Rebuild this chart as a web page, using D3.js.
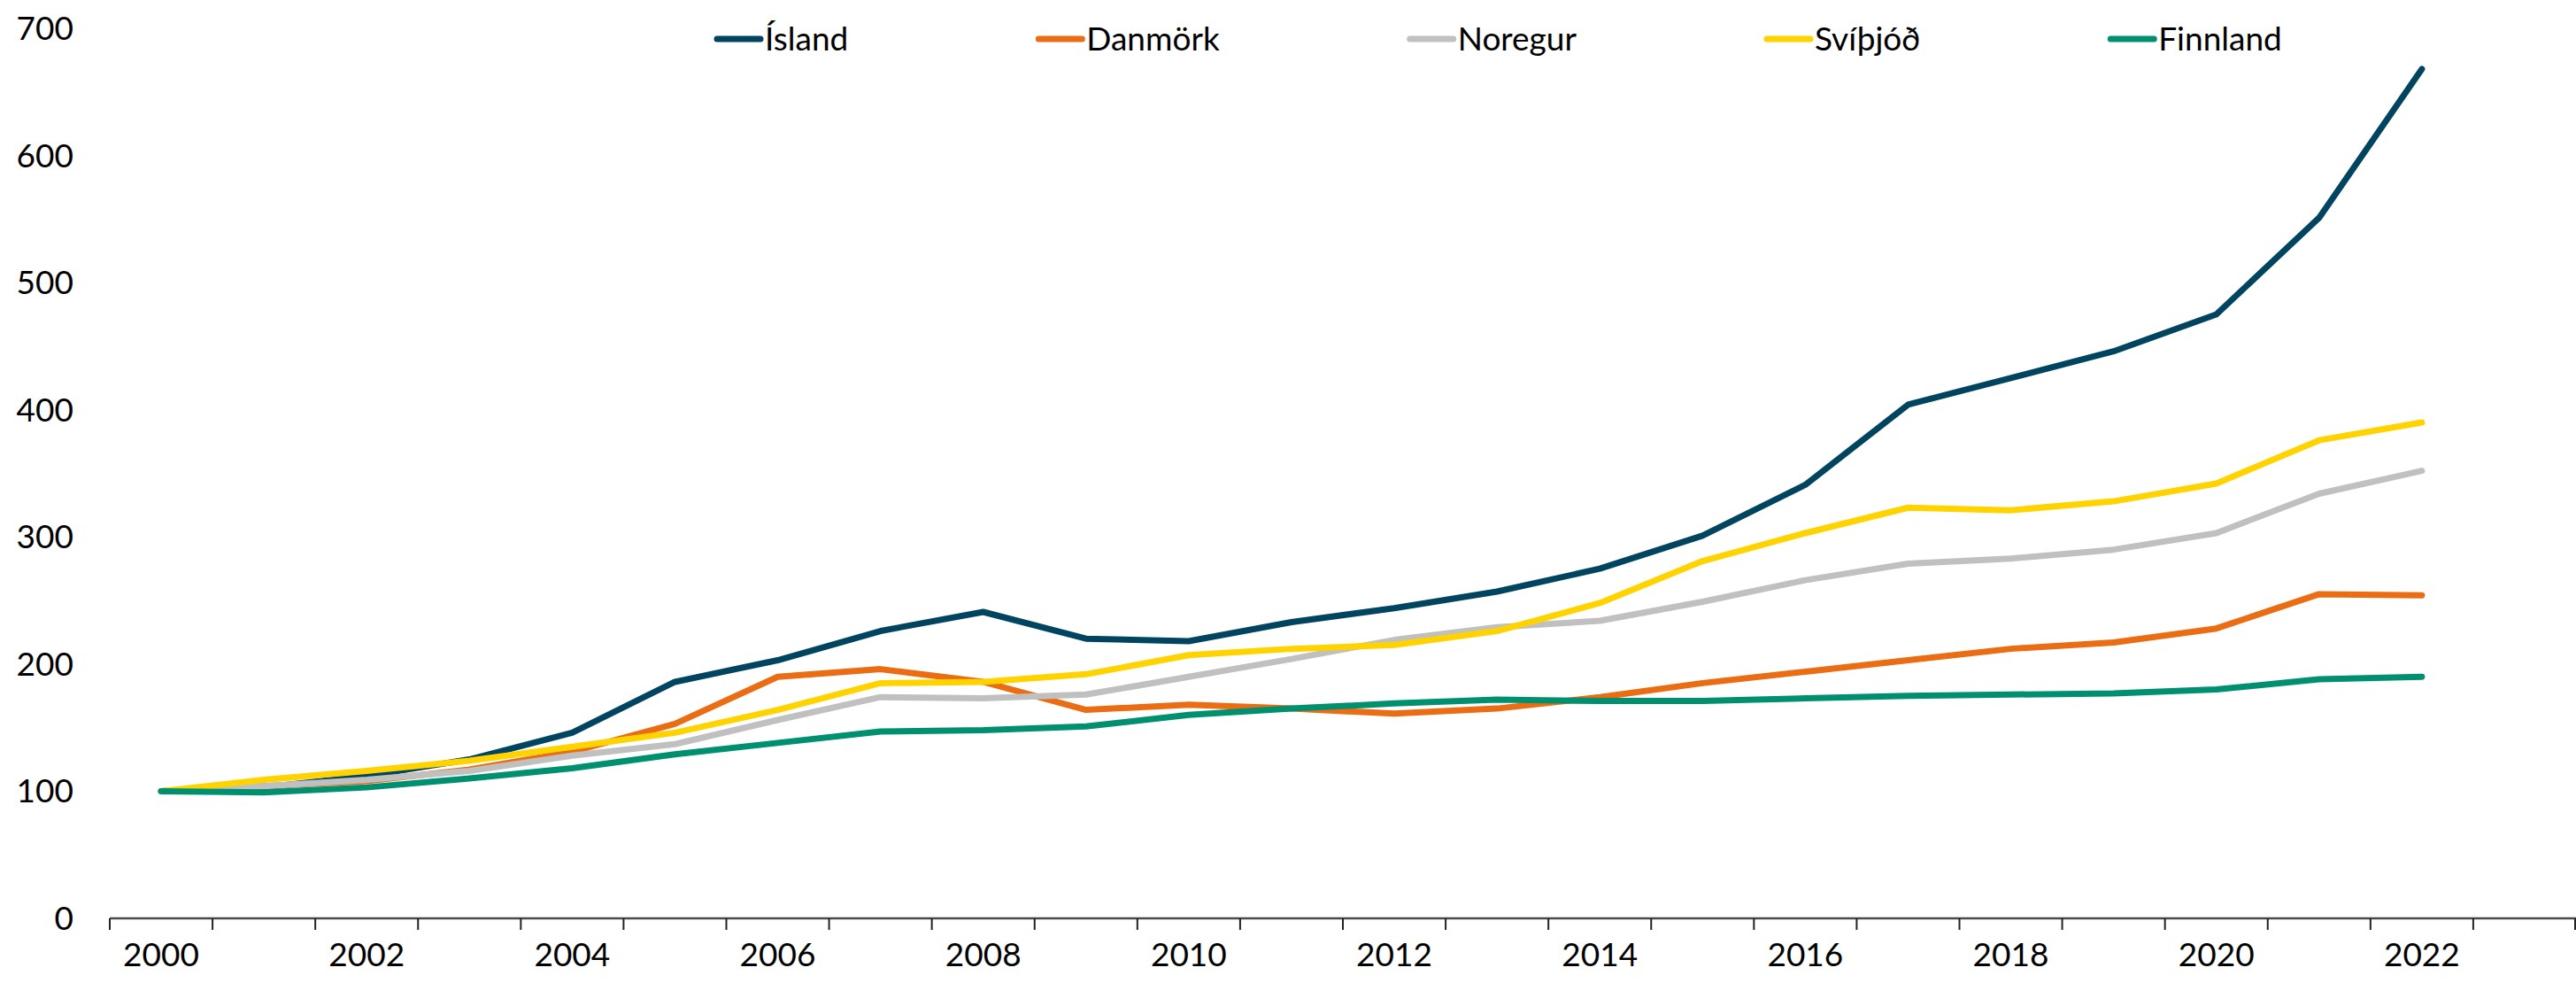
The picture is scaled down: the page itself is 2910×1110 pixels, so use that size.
<!DOCTYPE html>
<html>
<head>
<meta charset="utf-8">
<script src="https://cdn.jsdelivr.net/npm/d3@7"></script>
<style>
  body { margin: 0; background: #fff; }
  svg text { font-family: Lato, "Open Sans", sans-serif; fill: #000; }
</style>
</head>
<body>
<div class="chart"></div>
<script>
let width = 2910;
let height = 1110;

// years on the category axis (2023 is an empty slot at the end)
let years = d3.range(2000, 2024);
let yTicks = [0, 100, 200, 300, 400, 500, 600, 700];
let xLabels = [2000, 2002, 2004, 2006, 2008, 2010, 2012, 2014, 2016, 2018, 2020, 2022];

let names = ["Ísland", "Danmörk", "Noregur", "Svíþjóð", "Finnland"];
let colors = ["#00445f", "#ea6c13", "#c0c0c0", "#ffd300", "#00906f"];

// 2000 = 100
let island   = [100, 103, 112, 125, 146, 186, 203, 226, 241, 220, 218, 233, 244, 257, 275, 301, 341, 404, 425, 446, 475, 551, 668];
let danmork  = [100, 104, 108, 117, 131, 153, 190, 196, 186, 164, 168, 165, 161, 165, 174, 185, 194, 203, 212, 217, 228, 255, 254];
let noregur  = [100, 104, 109, 116, 128, 137, 156, 174, 173, 176, 190, 204, 219, 229, 234, 249, 266, 279, 283, 290, 303, 334, 352];
let svithjod = [100, 109, 116, 124, 135, 146, 164, 185, 186, 192, 207, 212, 215, 226, 248, 281, 303, 323, 321, 328, 342, 376, 390];
let finnland = [100, 99, 103, 110, 118, 129, 138, 147, 148, 151, 160, 165, 169, 172, 171, 171, 173, 175, 176, 177, 180, 188, 190];

let series = [island, danmork, noregur, svithjod, finnland];

let svg = d3.select('.chart')
    .append('svg')
    .attr('width', width)
    .attr('height', height);

let x = d3.scaleBand()
    .domain(years)
    .range([124, 2910])
    .padding(0);

let y = d3.scaleLinear()
    .domain([0, 700])
    .range([1037, 32]);

// y labels (no axis line, no grid)
svg.append('g')
    .selectAll('text')
    .data(yTicks)
    .enter()
    .append('text')
    .attr('x', 83)
    .attr('y', d => y(d))
    .attr('dy', '0.35em')
    .attr('text-anchor', 'end')
    .style('font-size', '37px')
    .text(d => d);

// x axis line + tick marks between categories
let xAxis = svg.append('g');
xAxis.append('line')
    .attr('x1', x.range()[0])
    .attr('x2', x.range()[1])
    .attr('y1', y(0))
    .attr('y2', y(0))
    .attr('stroke', '#4a4a4a')
    .attr('stroke-width', 2.5);

let edges = years.map(d => x(d)).concat([x.range()[1] - 1]);
xAxis.selectAll('line.tick')
    .data(edges)
    .enter()
    .append('line')
    .attr('class', 'tick')
    .attr('x1', d => d)
    .attr('x2', d => d)
    .attr('y1', y(0))
    .attr('y2', y(0) + 13)
    .attr('stroke', '#222')
    .attr('stroke-width', 2);

xAxis.selectAll('text')
    .data(xLabels)
    .enter()
    .append('text')
    .attr('x', d => x(d) + x.bandwidth() / 2)
    .attr('y', 1078)
    .attr('dy', '0.35em')
    .attr('text-anchor', 'middle')
    .style('font-size', '37px')
    .text(d => d);

// lines
let line = d3.line()
    .x((d, i) => x(years[i]) + x.bandwidth() / 2)
    .y(d => y(d));

series.forEach(function (s, k) {
    svg.append('path')
        .attr('d', line(s))
        .style('fill', 'none')
        .style('stroke-width', '7')
        .style('stroke-linejoin', 'round')
        .style('stroke-linecap', 'round')
        .attr('stroke', colors[k]);
});

// legend: swatch + label, constant gap after each label
let legend = svg.append('g');
let lx = 806;
names.forEach(function (n, k) {
    legend.append('line')
        .attr('x1', lx + 4)
        .attr('x2', lx + 53)
        .attr('y1', 44)
        .attr('y2', 44)
        .attr('stroke', colors[k])
        .attr('stroke-width', 7)
        .attr('stroke-linecap', 'round');
    let t = legend.append('text')
        .attr('x', lx + 58)
        .attr('y', 44)
        .attr('dy', '0.35em')
        .style('font-size', '37px')
        .text(n);
    lx = lx + 58 + t.node().getComputedTextLength() + 211;
});
</script>
</body>
</html>
